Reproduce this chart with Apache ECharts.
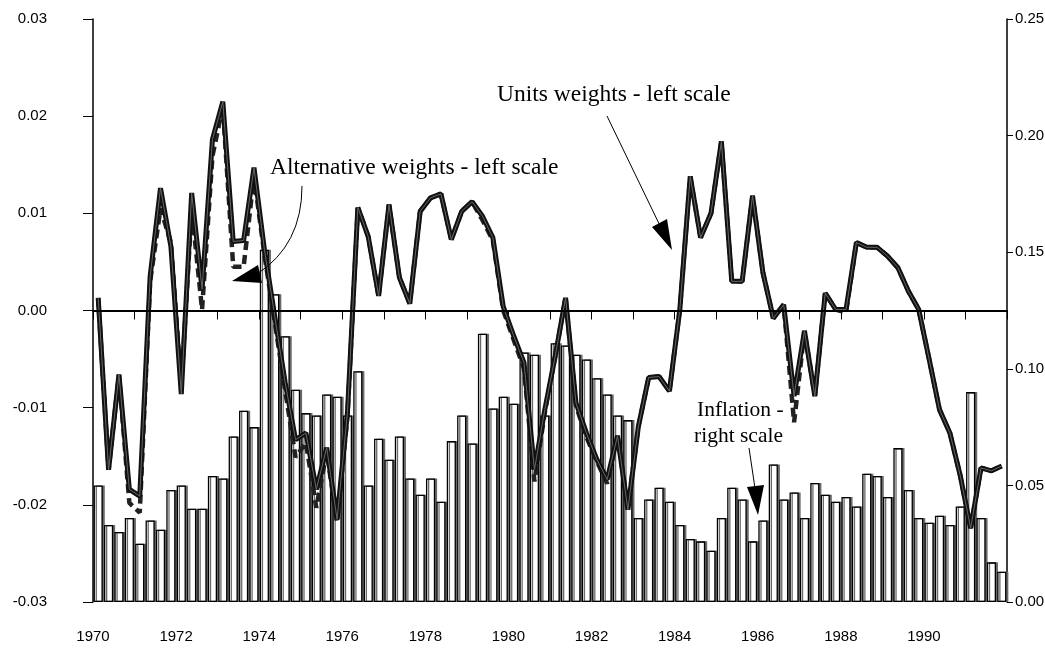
<!DOCTYPE html>
<html>
<head>
<meta charset="utf-8">
<script src="https://cdn.jsdelivr.net/npm/echarts@6/dist/echarts.min.js"></script>
<style>
    html, body { margin: 0; padding: 0; background: #fff; }
    #chart { width: 1045px; height: 657px; }
</style>
</head>
<body>
<div id="chart"></div>
<script>
// years on the x axis, each split in four quarters
const years = [1970, 1971, 1972, 1973, 1974, 1975, 1976, 1977, 1978, 1979, 1980,
    1981, 1982, 1983, 1984, 1985, 1986, 1987, 1988, 1989, 1990, 1991]

// inflation - right scale (bars)
const inflation = [
    0.050, 0.033, 0.030, 0.036, 0.025, 0.035, 0.031, 0.048, 0.050, 0.040, 0.040, 0.054, 0.053, 0.071, 0.082, 0.075,
    0.151, 0.132, 0.114, 0.091, 0.081, 0.080, 0.089, 0.088, 0.080, 0.099, 0.050, 0.070, 0.061, 0.071, 0.053, 0.046,
    0.053, 0.043, 0.069, 0.080, 0.068, 0.115, 0.083, 0.088, 0.085, 0.107, 0.106, 0.080, 0.111, 0.110, 0.106, 0.104,
    0.096, 0.089, 0.080, 0.078, 0.036, 0.044, 0.049, 0.043, 0.033, 0.027, 0.026, 0.022, 0.036, 0.049, 0.044, 0.026,
    0.035, 0.059, 0.044, 0.047, 0.036, 0.051, 0.046, 0.043, 0.045, 0.041, 0.055, 0.054, 0.045, 0.066, 0.048, 0.036,
    0.034, 0.037, 0.033, 0.041, 0.090, 0.036, 0.017, 0.013
]

// units weights - left scale
const unitsWeights = [
    0.0013, -0.0164, -0.0066, -0.0184, -0.0191, 0.0035, 0.0126, 0.0066, -0.0086, 0.0121, 0.0022, 0.0176, 0.0215, 0.0071, 0.0072, 0.0147,
    0.0063, -0.0006, -0.0074, -0.0133, -0.0126, -0.0184, -0.0141, -0.0215, -0.0105, 0.0106, 0.0076, 0.0015, 0.0109, 0.0034, 0.0007, 0.0102,
    0.0116, 0.0120, 0.0073, 0.0102, 0.0112, 0.0097, 0.0075, 0.0004, -0.0026, -0.0054, -0.0164, -0.0102, -0.0047, 0.0013, -0.0095, -0.0126,
    -0.0153, -0.0174, -0.0129, -0.0205, -0.0120, -0.0069, -0.0068, -0.0083, 0.0001, 0.0138, 0.0075, 0.0100, 0.0174, 0.0030, 0.0030, 0.0118,
    0.0039, -0.0008, 0.0006, -0.0088, -0.0021, -0.0088, 0.0018, 0.0001, 0.0001, 0.0070, 0.0065, 0.0065, 0.0056, 0.0044, 0.0020, 0.0001,
    -0.0050, -0.0102, -0.0126, -0.0170, -0.0224, -0.0162, -0.0165, -0.0160
]

// alternative weights - left scale
const altWeights = [
    0.0013, -0.0164, -0.0066, -0.0198, -0.0208, 0.0030, 0.0105, 0.0070, -0.0078, 0.0105, 0.0001, 0.0159, 0.0210, 0.0045, 0.0045, 0.0138,
    0.0058, -0.0012, -0.0082, -0.0151, -0.0136, -0.0203, -0.0145, -0.0218, -0.0108, 0.0106, 0.0076, 0.0015, 0.0109, 0.0034, 0.0007, 0.0102,
    0.0116, 0.0120, 0.0073, 0.0102, 0.0112, 0.0093, 0.0072, 0.0000, -0.0030, -0.0060, -0.0176, -0.0105, -0.0047, 0.0013, -0.0098, -0.0130,
    -0.0155, -0.0178, -0.0129, -0.0203, -0.0120, -0.0069, -0.0068, -0.0083, 0.0001, 0.0138, 0.0075, 0.0100, 0.0174, 0.0030, 0.0030, 0.0118,
    0.0039, -0.0008, 0.0006, -0.0115, -0.0021, -0.0088, 0.0018, 0.0001, -0.0002, 0.0070, 0.0065, 0.0065, 0.0056, 0.0044, 0.0020, 0.0001,
    -0.0050, -0.0102, -0.0126, -0.0170, -0.0224, -0.0162, -0.0165, -0.0160
]

// middle of each quarter on the year axis
const quarterX = years.flatMap(y => [0, 1, 2, 3].map(q => y + (q + 0.5) / 4))
const pairs = arr => quarterX.map((x, i) => [x, arr[i]])

const tickFont = '"Liberation Sans", Arial, sans-serif'
const noteFont = '"Liberation Serif", "DejaVu Serif", serif'
const fmt = v => (Math.abs(v) < 1e-9 ? '0.00' : v.toFixed(2))
const tickLabel = { color: '#000', fontSize: 15, fontFamily: tickFont }
const noteStyle = (text, size) => ({ text: text, font: size + 'px ' + noteFont, fill: '#000' })

const myChart = echarts.init(document.getElementById('chart'))

const option = {
    animation: false,
    grid: { left: 93, right: 38, top: 19, bottom: 55, outerBoundsMode: 'none', containLabel: false },
    xAxis: {
        type: 'value',
        min: 1970,
        max: 1992,
        interval: 1,
        splitLine: { show: false },
        axisLine: { lineStyle: { color: '#000', width: 2 } },
        axisTick: { length: 9, lineStyle: { color: '#000', width: 1 } },
        axisLabel: {
            ...tickLabel,
            margin: 27,
            formatter: v => (v % 2 === 0 && v < 1992 ? String(v) : '')
        }
    },
    yAxis: [
        {
            type: 'value',
            position: 'left',
            min: -0.03,
            max: 0.03,
            interval: 0.01,
            splitLine: { show: false },
            axisLine: { show: true, lineStyle: { color: '#000', width: 1.5 } },
            axisTick: { show: true, length: 10, lineStyle: { color: '#000', width: 1 } },
            axisLabel: { ...tickLabel, margin: 46, formatter: fmt }
        },
        {
            type: 'value',
            position: 'right',
            min: 0,
            max: 0.25,
            interval: 0.05,
            splitLine: { show: false },
            axisLine: { show: true, lineStyle: { color: '#000', width: 1.5 } },
            axisTick: { show: true, length: 6, lineStyle: { color: '#000', width: 1 } },
            axisLabel: { ...tickLabel, margin: 8, formatter: fmt }
        }
    ],
    series: [
        {
            name: 'Inflation',
            type: 'bar',
            yAxisIndex: 1,
            barWidth: '88%',
            data: pairs(inflation),
            itemStyle: {
                color: '#fff',
                borderColor: '#000',
                borderWidth: 1.3,
                shadowColor: '#6a6a6a',
                shadowOffsetX: 2,
                shadowBlur: 0
            }
        },
        {
            name: 'Alternative weights',
            type: 'line',
            yAxisIndex: 0,
            symbol: 'none',
            data: pairs(altWeights),
            lineStyle: { color: '#222', width: 4.5, type: [9, 5] }
        },
        {
            name: 'Units weights',
            type: 'line',
            yAxisIndex: 0,
            symbol: 'none',
            data: pairs(unitsWeights),
            lineStyle: { color: '#111', width: 5 },
            markLine: {
                silent: true,
                symbol: 'none',
                label: { show: false },
                lineStyle: { color: '#000', width: 2, type: 'solid' },
                data: [{ yAxis: 0 }]
            }
        },
        {
            // grey core of the triple line
            name: 'Units weights core',
            type: 'line',
            yAxisIndex: 0,
            symbol: 'none',
            data: pairs(unitsWeights),
            lineStyle: { color: '#666', width: 1 }
        }
    ],
    graphic: [
        { type: 'text', z: 100, left: 497, top: 83, style: noteStyle('Units weights - left scale', 23.5) },
        { type: 'line', z: 100, shape: { x1: 607, y1: 116, x2: 664, y2: 234 }, style: { stroke: '#000', lineWidth: 1 } },
        { type: 'polygon', z: 100, shape: { points: [[652, 227], [667, 219], [672, 250]] }, style: { fill: '#000' } },

        { type: 'text', z: 100, left: 270, top: 156, style: noteStyle('Alternative weights - left scale', 23.5) },
        { type: 'bezierCurve', z: 100, shape: { x1: 302, y1: 186, cpx1: 302, cpy1: 245, x2: 257, y2: 274 }, style: { stroke: '#000', lineWidth: 1, fill: 'none' } },
        { type: 'polygon', z: 100, shape: { points: [[232, 281], [262, 283], [258, 265]] }, style: { fill: '#000' } },

        { type: 'text', z: 100, left: 697, top: 399, style: noteStyle('Inflation -', 21.5) },
        { type: 'text', z: 100, left: 694, top: 425, style: noteStyle('right scale', 21.5) },
        { type: 'line', z: 100, shape: { x1: 749, y1: 448, x2: 756, y2: 495 }, style: { stroke: '#000', lineWidth: 1 } },
        { type: 'polygon', z: 100, shape: { points: [[747, 487], [764, 485], [758, 515]] }, style: { fill: '#000' } }
    ]
}

myChart.setOption(option)
window.addEventListener('resize', () => myChart.resize())
</script>
</body>
</html>
